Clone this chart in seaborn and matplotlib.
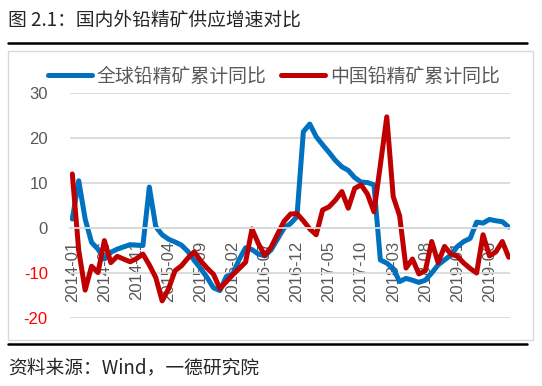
import pandas as pd
import matplotlib
matplotlib.use("Agg")
import matplotlib.pyplot as plt
import seaborn as sns
from matplotlib.patches import Rectangle
from matplotlib.lines import Line2D

# monthly categories 2014-01 .. 2019-09
months = pd.period_range("2014-01", "2019-09", freq="M").strftime("%Y-%m").tolist()

global_yoy = [2.0, 10.5, 2.0, -3.2, -4.7, -6.9, -5.4, -4.7, -4.2, -3.7,
              -3.8, -3.9, 9.1, 0.3, -1.5, -2.5, -3.1, -3.8, -5.2, -7.2,
              -9.0, -11.0, -13.3, -13.9, -10.8, -10.2, -7.0, -4.4, -4.8, -5.8,
              -6.2, -4.8, -2.4, 0.0, 1.0, 2.5, 21.4, 23.1, 20.3, 18.5,
              16.8, 15.0, 13.6, 12.8, 11.2, 10.2, 10.1, 9.6, -7.1, -7.8,
              -9.0, -11.9, -11.2, -11.6, -12.1, -11.6, -10.0, -8.2, -7.1, -6.0,
              -4.1, -3.0, -2.3, 1.3, 1.1, 1.9, 1.6, 1.4, 0.2]

china_yoy = [12.0, -5.0, -13.8, -8.5, -9.9, -2.8, -7.7, -6.3, -6.9, -7.5,
             -6.8, -5.8, -8.2, -11.0, -16.2, -13.5, -9.5, -8.4, -6.7, -5.3,
             -7.3, -8.9, -10.3, -13.5, -11.9, -10.4, -9.0, -7.6, -0.2, -3.5,
             -6.1, -4.2, -1.3, 1.5, 3.1, 3.2, 1.6, -0.2, -1.5, 4.0,
             4.7, 6.2, 8.1, 4.4, 8.8, 9.6, 7.5, 3.6, 14.0, 24.7,
             7.0, 2.7, -8.9, -6.9, -10.2, -9.5, -3.0, -7.7, -4.1, -5.8,
             -6.3, -7.8, -9.0, -10.0, -1.5, -6.2, -5.3, -3.0, -6.5]

series_names = ["全球铅精矿累计同比", "中国铅精矿累计同比"]
y_ticks = [-20, -10, 0, 10, 20, 30]

df = pd.DataFrame({"month": months, "global": global_yoy, "china": china_yoy})
df["pos"] = range(len(df))

sns.set_style("white")
plt.rcParams["font.family"] = ["Liberation Sans", "Noto Sans CJK SC"]

W, H = 542, 386
fig = plt.figure(figsize=(W / 100, H / 100), dpi=100)
ax = fig.add_axes([70 / W, 1 - 318 / H, 440 / W, 225 / H])

grid_c = "#D9D9D9"
sns.lineplot(data=df, x="pos", y="global", ax=ax, color="#0070C0", lw=3.6,
             label=series_names[0], solid_joinstyle="round", solid_capstyle="round")
sns.lineplot(data=df, x="pos", y="china", ax=ax, color="#C00000", lw=3.6,
             label=series_names[1], solid_joinstyle="round", solid_capstyle="round")

ax.set_xlim(-0.36, 68.2)
ax.set_ylim(-20, 30)
ax.set_xlabel("")
ax.set_ylabel("")

ax.set_yticks(y_ticks)
ax.set_yticklabels([str(v) for v in y_ticks])
for lab, v in zip(ax.get_yticklabels(), y_ticks):
    lab.set_color("#FF0000" if v < 0 else "#595959")
ax.tick_params(axis="y", length=0, pad=16, labelsize=12)
ax.yaxis.grid(True, color=grid_c, lw=1.3)
ax.set_axisbelow(True)

tick_pos = list(df["pos"][::5])
ax.set_xticks(tick_pos)
ax.set_xticklabels(list(df["month"][::5]))
ax.tick_params(axis="x", length=3, width=1, color=grid_c, labelcolor="#595959",
               labelsize=12, pad=6, direction="out", labelrotation=90)
for lab in ax.get_xticklabels():
    lab.set_rotation(90)
    lab.set_va("top")
    lab.set_ha("center")

for s in ["top", "right", "left"]:
    ax.spines[s].set_visible(False)
ax.spines["bottom"].set_position(("data", 0))
ax.spines["bottom"].set_color(grid_c)
ax.spines["bottom"].set_linewidth(1.3)

ax.legend(loc="center left", bbox_to_anchor=(48 / W, 1 - 76 / H),
          bbox_transform=fig.transFigure, ncol=2, frameon=False,
          borderpad=0, borderaxespad=0, handlelength=2.33, handletextpad=0.26,
          columnspacing=0.74, prop={"family": "Noto Sans CJK SC", "size": 13.6},
          labelcolor="#595959")

# frame, rules and captions
fig.add_artist(Rectangle((8 / W, 1 - 340 / H), 525 / W, 289 / H, fill=False,
                         ec=grid_c, lw=1, transform=fig.transFigure))
fig.add_artist(Line2D([8 / W, 527 / W], [1 - 43 / H] * 2, color="black", lw=1.8))
fig.add_artist(Line2D([8 / W, 527 / W], [1 - 344 / H] * 2, color="black", lw=1.8))
fig.text(8 / W, 1 - 20 / H, "图 2.1：国内外铅精矿供应增速对比", fontsize=13.5,
         va="center", ha="left", family=["Noto Sans CJK SC", "DejaVu Sans"])
fig.text(8 / W, 1 - 368 / H, "资料来源：Wind，一德研究院", fontsize=13.5,
         va="center", ha="left", family=["Noto Sans CJK SC", "DejaVu Sans"])

fig.savefig("out.png", dpi=100)
